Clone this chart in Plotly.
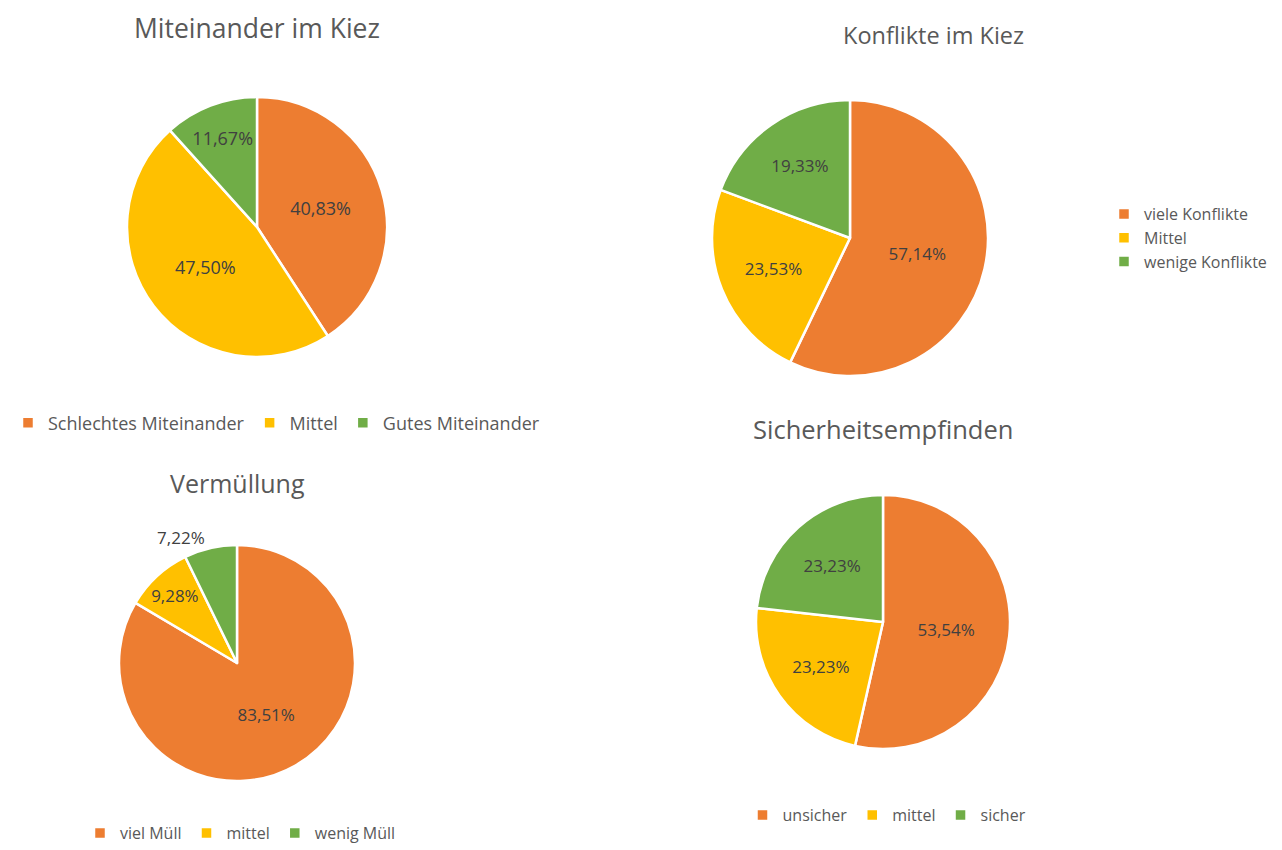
import plotly.graph_objects as go

# ---- data ----
mit_labels = ["Schlechtes Miteinander", "Mittel", "Gutes Miteinander"]
mit_values = [40.83, 47.50, 11.67]
mit_text = ["40,83%", "47,50%", "11,67%"]

# zero-width space keeps legend entries distinct from the identical labels of other pies
kon_labels = ["viele Konflikte", "Mittel\u200b", "wenige Konflikte"]
kon_values = [57.14, 23.53, 19.33]
kon_text = ["57,14%", "23,53%", "19,33%"]

mue_labels = ["viel Müll", "mittel", "wenig Müll"]
mue_values = [83.51, 9.28, 7.22]
mue_text = ["83,51%", "9,28%", "7,22%"]

sic_labels = ["unsicher", "mittel\u200b", "sicher"]
sic_values = [53.54, 23.23, 23.23]
sic_text = ["53,54%", "23,23%", "23,23%"]

titles = ["Miteinander im Kiez", "Konflikte im Kiez", "Vermüllung", "Sicherheitsempfinden"]

colors = ["#ED7D31", "#FFC000", "#70AD47"]
OFF = 8            # page body margin
W, H = 1274, 842
FONT = "Open Sans"
GREY = "#595959"
TXT = "#404040"


def fx(x):
    return (x - OFF) / W


def fy(y):
    return 1 - (y - OFF) / H


def dom(cx, cy, r):
    return dict(x=[fx(cx - r), fx(cx + r)], y=[fy(cy + r), fy(cy - r)])


def pie(labels, values, text, d, legend, size, positions=None):
    return go.Pie(
        labels=labels, values=values, text=text, textinfo="text",
        sort=False, direction="clockwise", rotation=0,
        marker=dict(colors=colors, line=dict(color="white", width=2.5)),
        textposition=positions or "inside",
        insidetextorientation="horizontal",
        textfont=dict(family=FONT, size=size, color=TXT),
        domain=d, legend=legend, hoverinfo="label+text",
    )


fig = go.Figure()
fig.add_trace(pie(mit_labels, mit_values, mit_text, dom(257, 227, 130), "legend", 18))
fig.add_trace(pie(kon_labels, kon_values, kon_text, dom(850, 238, 138), "legend2", 17))
fig.add_trace(pie(mue_labels, mue_values, mue_text, dom(237, 663, 118), "legend3", 17,
                  ["inside", "inside", "outside"]))
fig.add_trace(pie(sic_labels, sic_values, sic_text, dom(883, 622, 127), "legend4", 17))

title_pos = [(257, 28, 26.5), (933, 35, 23.5), (237, 483, 25), (883, 429, 25.5)]
for t, (x, y, s) in zip(titles, title_pos):
    fig.add_annotation(text=t, x=fx(x), y=fy(y), xref="paper", yref="paper",
                       showarrow=False, xanchor="center", yanchor="middle",
                       font=dict(family=FONT, size=s, color=GREY))

legfont = dict(family=FONT, size=16, color=GREY)
fig.update_layout(
    width=W, height=H,
    margin=dict(l=0, r=0, t=0, b=0),
    paper_bgcolor="white", plot_bgcolor="white",
    showlegend=True,
    legend=dict(orientation="h", x=0, y=fy(423), xanchor="left", yanchor="middle",
                font=dict(family=FONT, size=18, color=GREY), itemwidth=30),
    legend2=dict(orientation="v", x=fx(1104), y=fy(238), xanchor="left", yanchor="middle",
                 font=dict(family=FONT, size=16, color=GREY), itemwidth=30),
    legend3=dict(orientation="h", x=fx(80), y=0, xanchor="left", yanchor="bottom",
                 font=legfont, itemwidth=30),
    legend4=dict(orientation="h", x=fx(887), y=fy(815), xanchor="center", yanchor="middle",
                 font=legfont, itemwidth=30),
)

fig.write_html("out.html")
